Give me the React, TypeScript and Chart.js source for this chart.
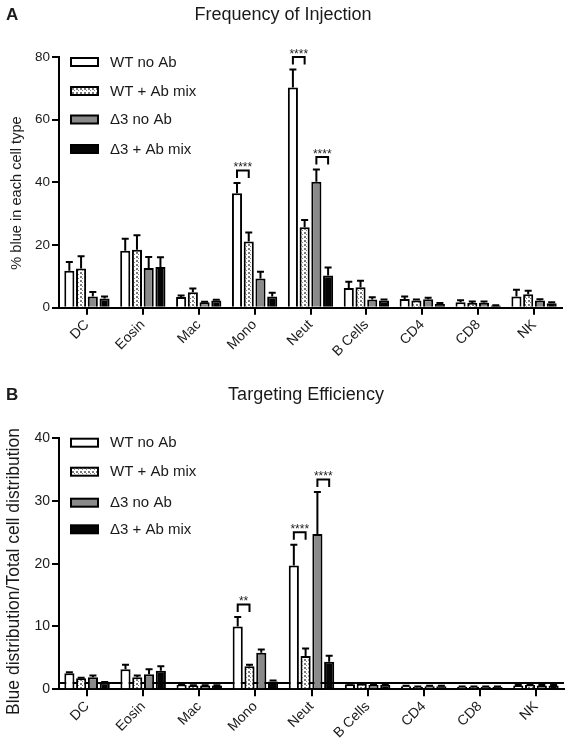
import React, { useEffect, useRef } from "react";
import { Chart, registerables } from "chart.js";

Chart.register(...registerables);

const FONT = "'Liberation Sans', Arial, Helvetica, sans-serif";

const categories = ["DC", "Eosin", "Mac", "Mono", "Neut", "B Cells", "CD4", "CD8", "NK"];
const seriesNames = ["WT no Ab", "WT + Ab mix", "Δ3 no Ab", "Δ3 + Ab mix"];

// Panel A: Frequency of Injection (% blue in each cell type)
const freqWtNoAb = [11.8, 18.2, 3.4, 36.5, 70.3, 6.3, 2.8, 1.7, 3.6];
const freqWtNoAbErr = [2.8, 3.8, 0.5, 3.3, 5.7, 2.0, 0.8, 0.7, 2.1];
const freqWtAb = [12.5, 18.5, 4.9, 21.1, 25.7, 6.5, 2.3, 1.5, 4.3];
const freqWtAbErr = [3.9, 4.6, 1.2, 2.9, 2.3, 2.1, 0.3, 0.5, 1.1];
const freqD3NoAb = [3.6, 12.7, 1.7, 9.3, 40.2, 2.6, 2.7, 1.6, 2.3];
const freqD3NoAbErr = [1.4, 3.5, 0.2, 2.2, 3.9, 0.7, 0.5, 0.4, 0.4];
const freqD3Ab = [2.9, 13.0, 2.3, 3.6, 10.3, 2.3, 1.2, 0.7, 1.4];
const freqD3AbErr = [0.7, 3.1, 0.2, 1.2, 2.5, 0.3, 0.3, 0.1, 0.3];
const freqTicks = [0, 20, 40, 60, 80];

// Panel B: Targeting Efficiency
const effWtNoAb = [2.55, 3.2, 0.7, 10.0, 19.7, 0.8, 0.5, 0.4, 0.6];
const effWtNoAbErr = [0.15, 0.7, 0.05, 1.5, 3.3, 0.1, 0.05, 0.05, 0.1];
const effWtAb = [1.75, 1.9, 0.6, 3.65, 5.3, 0.9, 0.4, 0.4, 0.7];
const effWtAbErr = [0.1, 0.3, 0.05, 0.25, 1.2, 0.1, 0.05, 0.05, 0.1];
const effD3NoAb = [1.9, 2.4, 0.6, 5.8, 24.7, 0.7, 0.5, 0.4, 0.6];
const effD3NoAbErr = [0.3, 0.8, 0.05, 0.55, 6.7, 0.1, 0.05, 0.05, 0.1];
const effD3Ab = [1.05, 2.95, 0.6, 1.25, 4.4, 0.7, 0.5, 0.4, 0.6];
const effD3AbErr = [0.1, 0.7, 0.05, 0.15, 0.95, 0.1, 0.05, 0.05, 0.1];
const effTicks = [0, 10, 20, 30, 40];
const effRefLine = 1;

// significance comparisons: [category index, series a, series b, label]
const freqSig: [number, number, number, string][] = [
  [3, 0, 1, "****"],
  [4, 0, 1, "****"],
  [4, 2, 3, "****"],
];
const effSig: [number, number, number, string][] = [
  [3, 0, 1, "**"],
  [4, 0, 1, "****"],
  [4, 2, 3, "****"],
];

function makePattern(): CanvasPattern | string {
  const c = document.createElement("canvas");
  c.width = 4;
  c.height = 4;
  const g = c.getContext("2d");
  if (!g) return "#ddd";
  g.fillStyle = "#ffffff";
  g.fillRect(0, 0, 4, 4);
  g.fillStyle = "#7a7a7a";
  g.fillRect(0, 0, 2, 2);
  g.fillRect(2, 2, 1, 1);
  const p = g.createPattern(c, "repeat");
  return p || "#ddd";
}

type PanelCfg = {
  title: string;
  titleX: number;
  titleY: number;
  letter: string;
  letterY: number;
  yTitle: string;
  yTitleX: number;
  yTitleY: number;
  yTitleSize: number;
  legendYs: number[];
  values: number[][];
  errors: number[][];
  sig: [number, number, number, string][];
  refLine?: number;
};

function decorPlugin(cfg: PanelCfg) {
  return {
    id: "decor",
    beforeDatasetsDraw(chart: any) {
      if (cfg.refLine === undefined) return;
      const { ctx, chartArea, scales } = chart;
      const y = scales.y.getPixelForValue(cfg.refLine);
      ctx.save();
      ctx.strokeStyle = "#000";
      ctx.lineWidth = 2;
      ctx.beginPath();
      ctx.moveTo(chartArea.left, y);
      ctx.lineTo(chartArea.right, y);
      ctx.stroke();
      ctx.restore();
    },
    afterDatasetsDraw(chart: any) {
      const { ctx, scales } = chart;
      const ys = scales.y;
      ctx.save();
      ctx.strokeStyle = "#000";
      ctx.lineWidth = 2;
      cfg.values.forEach((vals, i) => {
        const meta = chart.getDatasetMeta(i);
        vals.forEach((v, j) => {
          const bar = meta.data[j];
          const top = ys.getPixelForValue(v + cfg.errors[i][j]);
          const x = bar.x;
          ctx.beginPath();
          ctx.moveTo(x, bar.y);
          ctx.lineTo(x, top);
          ctx.moveTo(x - 3.5, top);
          ctx.lineTo(x + 3.5, top);
          ctx.stroke();
        });
      });
      // significance brackets
      cfg.sig.forEach(([cat, a, b, label]) => {
        const ma = chart.getDatasetMeta(a).data[cat];
        const mb = chart.getDatasetMeta(b).data[cat];
        const ta = ys.getPixelForValue(cfg.values[a][cat] + cfg.errors[a][cat]);
        const tb = ys.getPixelForValue(cfg.values[b][cat] + cfg.errors[b][cat]);
        const legBottom = Math.min(ta, tb) - 5;
        const top = legBottom - 7.5;
        ctx.beginPath();
        ctx.moveTo(ma.x, legBottom);
        ctx.lineTo(ma.x, top);
        ctx.lineTo(mb.x, top);
        ctx.lineTo(mb.x, legBottom);
        ctx.stroke();
        ctx.fillStyle = "#222";
        ctx.font = `12px ${FONT}`;
        ctx.textAlign = "center";
        ctx.textBaseline = "alphabetic";
        ctx.fillText(label, (ma.x + mb.x) / 2, top + 0.5);
      });
      ctx.restore();
    },
    afterDraw(chart: any) {
      const { ctx } = chart;
      ctx.save();
      ctx.fillStyle = "#1a1a1a";
      // title
      ctx.font = `18px ${FONT}`;
      ctx.textAlign = "center";
      ctx.textBaseline = "alphabetic";
      ctx.fillText(cfg.title, cfg.titleX, cfg.titleY);
      // panel letter
      ctx.font = `bold 17px ${FONT}`;
      ctx.textAlign = "left";
      ctx.fillText(cfg.letter, 6, cfg.letterY);
      // y title
      ctx.save();
      ctx.translate(cfg.yTitleX, cfg.yTitleY);
      ctx.rotate(-Math.PI / 2);
      ctx.font = `${cfg.yTitleSize}px ${FONT}`;
      ctx.textAlign = "center";
      ctx.textBaseline = "middle";
      ctx.fillText(cfg.yTitle, 0, 0);
      ctx.restore();
      // legend
      chart.data.datasets.forEach((ds: any, i: number) => {
        const cy = cfg.legendYs[i];
        ctx.fillStyle = ds.backgroundColor;
        ctx.fillRect(71, cy - 4, 27, 8);
        ctx.strokeStyle = "#000";
        ctx.lineWidth = 2;
        ctx.strokeRect(71, cy - 4, 27, 8);
        ctx.fillStyle = "#1a1a1a";
        ctx.font = `15px ${FONT}`;
        ctx.textAlign = "left";
        ctx.textBaseline = "middle";
        ctx.fillText(ds.label, 110, cy + 0.5);
      });
      ctx.restore();
    },
  };
}

function Panel(props: {
  cfg: PanelCfg;
  ticks: number[];
  padTop: number;
  padRight: number;
  xHeight: number;
  tickSize: number;
}) {
  const ref = useRef<HTMLCanvasElement | null>(null);
  useEffect(() => {
    if (!ref.current) return;
    const { cfg, ticks } = props;
    const pattern = makePattern();
    const fills = ["#ffffff", pattern, "#8a8a8a", "#050505"];
    const chart = new Chart(ref.current, {
      type: "bar",
      data: {
        labels: categories,
        datasets: cfg.values.map((vals, i) => ({
          label: seriesNames[i],
          data: vals,
          backgroundColor: fills[i] as any,
          borderColor: "#000",
          borderWidth: 2,
          borderSkipped: "start",
          categoryPercentage: 0.84,
          barPercentage: 0.86,
        })),
      },
      options: {
        responsive: false,
        animation: false,
        events: [],
        layout: { padding: { top: props.padTop, right: props.padRight, left: 0, bottom: 0 } },
        plugins: { legend: { display: false }, tooltip: { enabled: false }, title: { display: false } },
        scales: {
          x: {
            offset: true,
            grid: {
              display: true,
              offset: false,
              drawOnChartArea: false,
              drawTicks: true,
              tickLength: 7,
              color: "#000",
              lineWidth: 2,
            },
            border: { display: true, color: "#000", width: 2 },
            ticks: {
              color: "#1a1a1a",
              font: { family: FONT, size: 14 },
              minRotation: 45,
              maxRotation: 45,
              padding: 2,
              autoSkip: false,
            },
            afterFit: (s: any) => {
              s.height = props.xHeight;
            },
          },
          y: {
            min: ticks[0],
            max: ticks[ticks.length - 1],
            afterBuildTicks: (s: any) => {
              s.ticks = ticks.map((v) => ({ value: v }));
            },
            grid: {
              display: true,
              drawOnChartArea: false,
              drawTicks: true,
              tickLength: 7,
              color: "#000",
              lineWidth: 2,
            },
            border: { display: true, color: "#000", width: 2 },
            ticks: {
              color: "#1a1a1a",
              font: { family: FONT, size: props.tickSize },
              padding: 2,
            },
            afterFit: (s: any) => {
              s.width = 59;
            },
          },
        },
      },
      plugins: [decorPlugin(cfg)],
    });
    return () => chart.destroy();
  }, []);
  return <canvas ref={ref} width={571} height={375} style={{ display: "block", width: 571, height: 375 }} />;
}

const freqCfg: PanelCfg = {
  title: "Frequency of Injection",
  titleX: 283,
  titleY: 20,
  letter: "A",
  letterY: 20,
  yTitle: "% blue in each cell type",
  yTitleX: 17,
  yTitleY: 193,
  yTitleSize: 14.6,
  legendYs: [62, 91, 119.5, 149],
  values: [freqWtNoAb, freqWtAb, freqD3NoAb, freqD3Ab],
  errors: [freqWtNoAbErr, freqWtAbErr, freqD3NoAbErr, freqD3AbErr],
  sig: freqSig,
};

const effCfg: PanelCfg = {
  title: "Targeting Efficiency",
  titleX: 306,
  titleY: 25,
  letter: "B",
  letterY: 24.5,
  yTitle: "Blue distribution/Total cell distribution",
  yTitleX: 14,
  yTitleY: 196.5,
  yTitleSize: 17.5,
  legendYs: [67.7, 96.7, 127.7, 154.3],
  values: [effWtNoAb, effWtAb, effD3NoAb, effD3Ab],
  errors: [effWtNoAbErr, effWtAbErr, effD3NoAbErr, effD3AbErr],
  sig: effSig,
  refLine: effRefLine,
};

export default function App() {
  return (
    <div style={{ position: "absolute", left: 0, top: 0, width: 571, height: 750, background: "#fff" }}>
      <Panel cfg={freqCfg} ticks={freqTicks} padTop={57} padRight={9} xHeight={67.3} tickSize={13.5} />
      <Panel cfg={effCfg} ticks={effTicks} padTop={63} padRight={7} xHeight={60.7} tickSize={14} />
    </div>
  );
}
